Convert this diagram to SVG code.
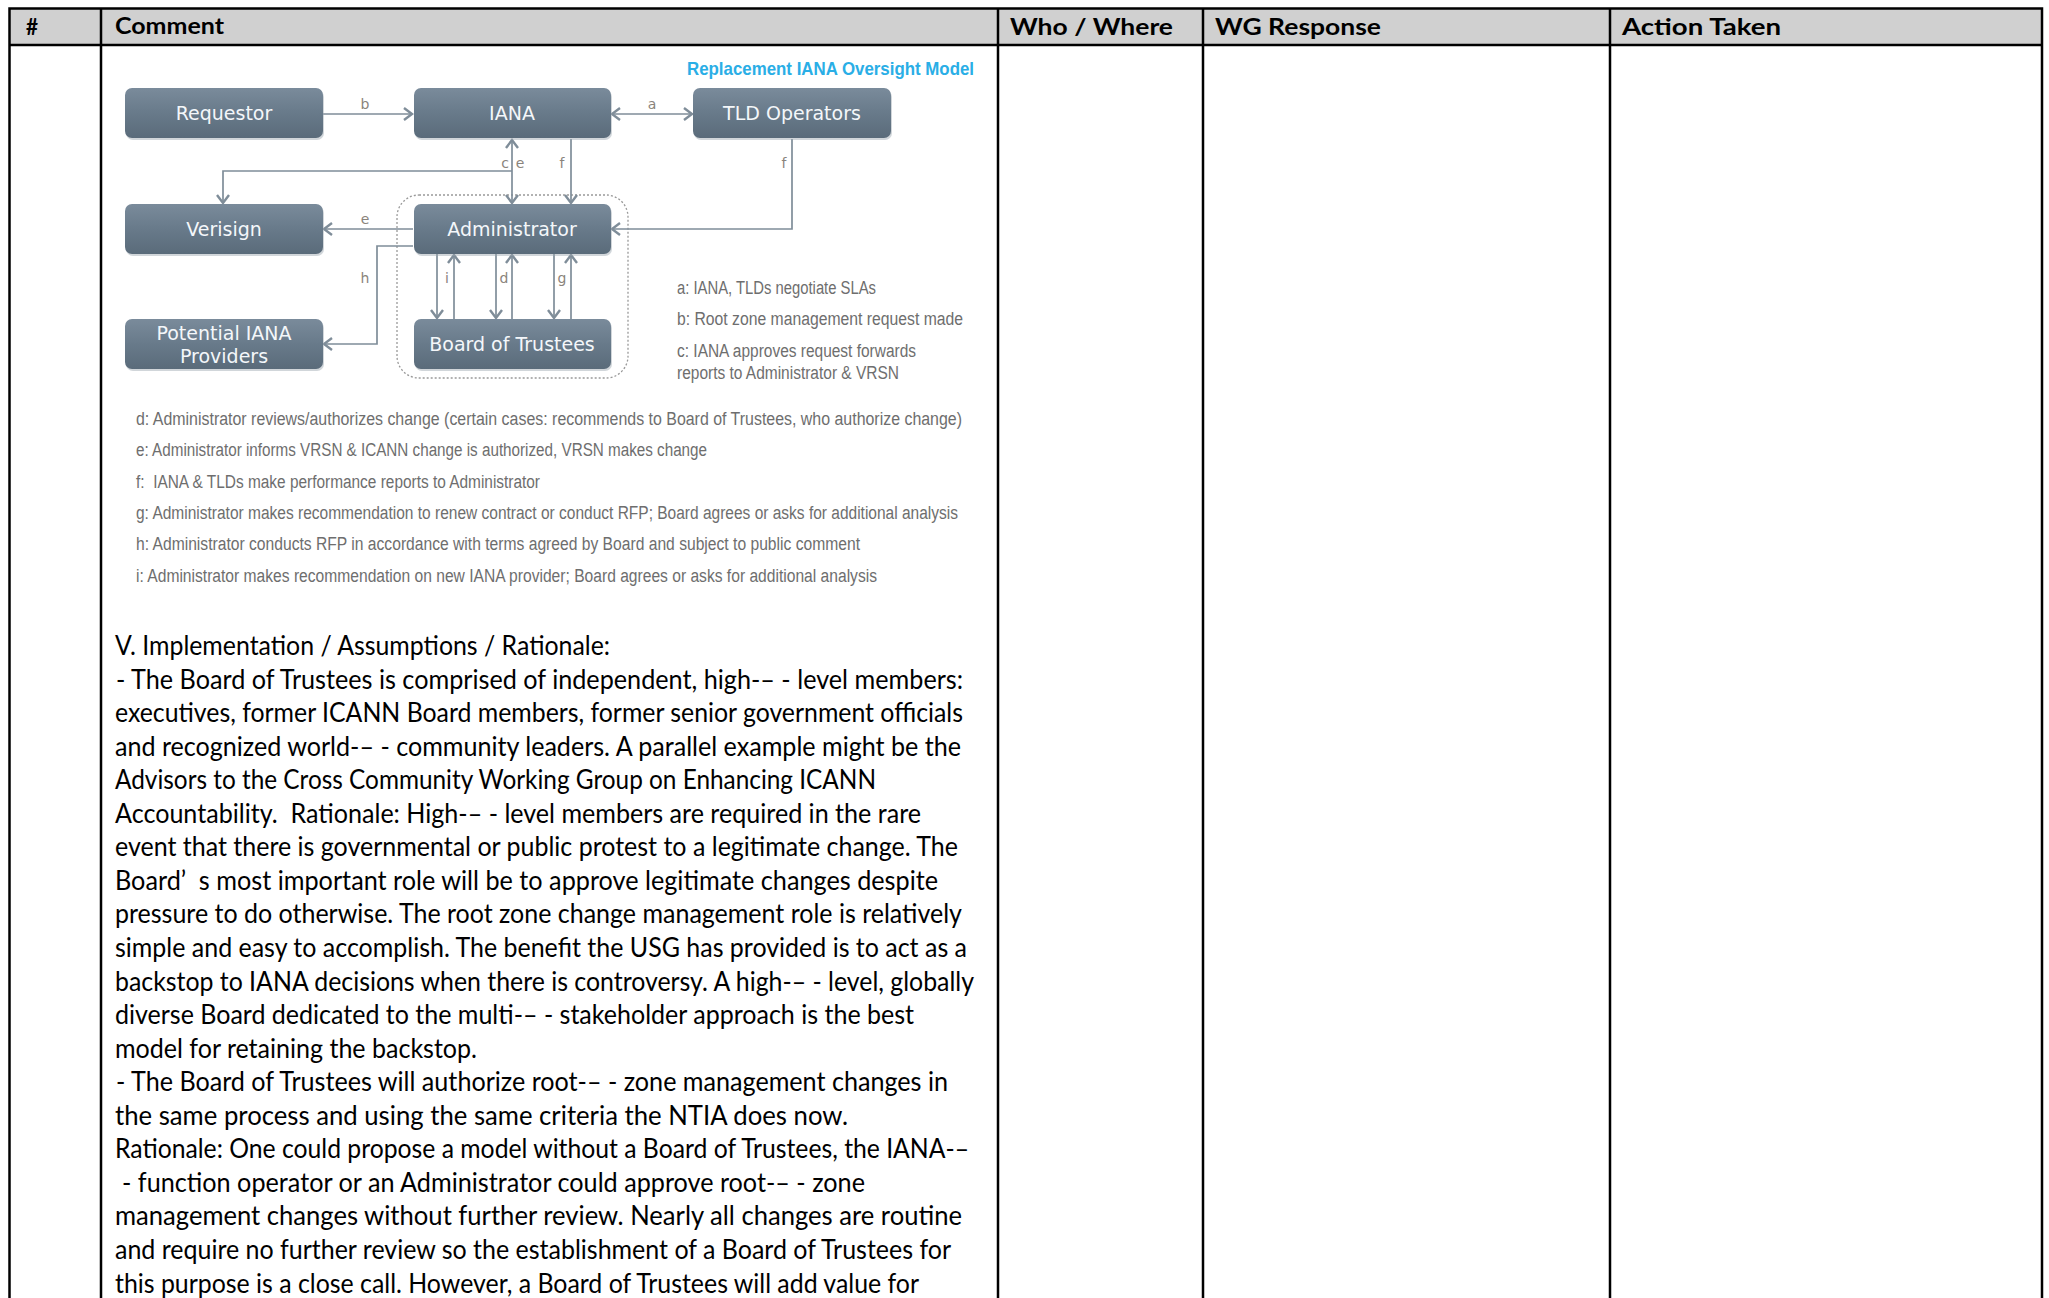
<svg xmlns="http://www.w3.org/2000/svg" width="2049" height="1298" viewBox="0 0 2049 1298">
<defs>
<style>
.hdr{font-family:Lato,"Liberation Sans",sans-serif;font-weight:700;font-size:23px;fill:#000}
.body{font-family:Lato,"Liberation Sans",sans-serif;font-size:26px;fill:#000}
.grid{stroke:#000;stroke-width:2.5;fill:none}
.box{fill:url(#boxg)}
.shadow{fill:#9aa4ad;opacity:0.45}
.btxt{font-family:"DejaVu Sans",Verdana,sans-serif;font-size:19px;fill:#f4f7fa;text-anchor:middle}
.conn{stroke:#7f8d99;stroke-width:1.7;fill:none}
.lbl{font-family:"DejaVu Sans",sans-serif;font-size:14px;fill:#8a847c;text-anchor:middle}
.leg{font-family:"Liberation Sans Narrow","Liberation Sans",sans-serif;font-size:18px;fill:#6e6e6e}
.title{font-family:"Liberation Sans Narrow","Liberation Sans",sans-serif;font-weight:700;font-size:19px;fill:#2aaee6}
</style>
<linearGradient id="boxg" x1="0" y1="0" x2="0" y2="1">
<stop offset="0" stop-color="#7a8b9b"/>
<stop offset="0.5" stop-color="#687a8a"/>
<stop offset="1" stop-color="#5a6b7a"/>
</linearGradient>
<marker id="ar" viewBox="-11 -8 13 16" refX="0" refY="0" markerWidth="13" markerHeight="16" markerUnits="userSpaceOnUse" orient="auto-start-reverse">
<path d="M-8,-6 L0,0 L-8,6" fill="none" stroke="#7f8d99" stroke-width="2.4"/>
</marker>
</defs>
<rect width="2049" height="1298" fill="#fff"/>

<g id="table">
<rect x="10" y="9" width="2032" height="36" fill="#d0d0d0"/>
<path class="grid" d="M9.5,1298 V8.5 H2042 V1298 M9.5,45 H2042 M101,8.5 V1298 M998,8.5 V1298 M1203,8.5 V1298 M1610,8.5 V1298"/>
<text class="hdr" x="26" y="35" textLength="12" lengthAdjust="spacingAndGlyphs">#</text>
<text class="hdr" x="115" y="34" textLength="109" lengthAdjust="spacingAndGlyphs">Comment</text>
<text class="hdr" x="1010" y="35" textLength="163" lengthAdjust="spacingAndGlyphs">Who / Where</text>
<text class="hdr" x="1215" y="35" textLength="166" lengthAdjust="spacingAndGlyphs">WG Response</text>
<text class="hdr" x="1622" y="35" textLength="159" lengthAdjust="spacingAndGlyphs">Action Taken</text>
</g>

<text class="title" x="687" y="75" textLength="287" lengthAdjust="spacingAndGlyphs">Replacement IANA Oversight Model</text>

<rect x="397" y="195" width="231" height="183" rx="22" fill="none" stroke="#999" stroke-width="1.3" stroke-dasharray="2,2"/>

<g id="connectors">
<path class="conn" d="M323,114 H412" marker-end="url(#ar)"/>
<path class="conn" d="M612,114 H692" marker-start="url(#ar)" marker-end="url(#ar)"/>
<path class="conn" d="M512,140 V203" marker-start="url(#ar)" marker-end="url(#ar)"/>
<path class="conn" d="M512,171 H223 V203" marker-end="url(#ar)"/>
<path class="conn" d="M571,139 V203" marker-end="url(#ar)"/>
<path class="conn" d="M792,139 V229 H612" marker-end="url(#ar)"/>
<path class="conn" d="M413,229 H324" marker-end="url(#ar)"/>
<path class="conn" d="M413,246 H377 V344 H324" marker-end="url(#ar)"/>
<path class="conn" d="M437,254 V318" marker-end="url(#ar)"/>
<path class="conn" d="M454,319 V255" marker-end="url(#ar)"/>
<path class="conn" d="M496,254 V318" marker-end="url(#ar)"/>
<path class="conn" d="M512,319 V255" marker-end="url(#ar)"/>
<path class="conn" d="M554,254 V318" marker-end="url(#ar)"/>
<path class="conn" d="M571,319 V255" marker-end="url(#ar)"/>
<text class="lbl" x="365" y="109">b</text>
<text class="lbl" x="652" y="109">a</text>
<text class="lbl" x="505" y="168">c</text>
<text class="lbl" x="520" y="168">e</text>
<text class="lbl" x="562" y="168">f</text>
<text class="lbl" x="784" y="168">f</text>
<text class="lbl" x="365" y="224">e</text>
<text class="lbl" x="365" y="283">h</text>
<text class="lbl" x="447" y="283">i</text>
<text class="lbl" x="504" y="283">d</text>
<text class="lbl" x="562" y="283">g</text>
</g>

<g id="requestor">
<rect class="shadow" x="126" y="90" width="198" height="50" rx="7"/>
<rect class="box" x="125" y="88" width="198" height="50" rx="7"/>
<text class="btxt" x="224" y="120">Requestor</text>
</g>
<g id="iana">
<rect class="shadow" x="415" y="90" width="197" height="50" rx="7"/>
<rect class="box" x="414" y="88" width="197" height="50" rx="7"/>
<text class="btxt" x="512" y="120">IANA</text>
</g>
<g id="tld-operators">
<rect class="shadow" x="694" y="90" width="198" height="50" rx="7"/>
<rect class="box" x="693" y="88" width="198" height="50" rx="7"/>
<text class="btxt" x="792" y="120">TLD Operators</text>
</g>
<g id="verisign">
<rect class="shadow" x="126" y="206" width="198" height="50" rx="7"/>
<rect class="box" x="125" y="204" width="198" height="50" rx="7"/>
<text class="btxt" x="224" y="236">Verisign</text>
</g>
<g id="administrator">
<rect class="shadow" x="415" y="206" width="197" height="50" rx="7"/>
<rect class="box" x="414" y="204" width="197" height="50" rx="7"/>
<text class="btxt" x="512" y="236">Administrator</text>
</g>
<g id="potential-iana-providers">
<rect class="shadow" x="126" y="321" width="198" height="50" rx="7"/>
<rect class="box" x="125" y="319" width="198" height="50" rx="7"/>
<text class="btxt" x="224" y="340">Potential IANA</text>
<text class="btxt" x="224" y="363">Providers</text>
</g>
<g id="board-of-trustees">
<rect class="shadow" x="415" y="321" width="197" height="50" rx="7"/>
<rect class="box" x="414" y="319" width="197" height="50" rx="7"/>
<text class="btxt" x="512" y="351">Board of Trustees</text>
</g>

<g id="legend">
<text class="leg" x="677" y="294" textLength="199" lengthAdjust="spacingAndGlyphs">a: IANA, TLDs negotiate SLAs</text>
<text class="leg" x="677" y="324.5" textLength="286" lengthAdjust="spacingAndGlyphs">b: Root zone management request made</text>
<text class="leg" x="677" y="356.5" textLength="239" lengthAdjust="spacingAndGlyphs">c: IANA approves request forwards</text>
<text class="leg" x="677" y="379" textLength="222" lengthAdjust="spacingAndGlyphs">reports to Administrator &amp; VRSN</text>
<text class="leg" x="136" y="424.5" textLength="826" lengthAdjust="spacingAndGlyphs">d: Administrator reviews/authorizes change (certain cases: recommends to Board of Trustees, who authorize change)</text>
<text class="leg" x="136" y="456" textLength="571" lengthAdjust="spacingAndGlyphs">e: Administrator informs VRSN &amp; ICANN change is authorized, VRSN makes change</text>
<text class="leg" x="136" y="487.5" textLength="404" lengthAdjust="spacingAndGlyphs">f:&#160; IANA &amp; TLDs make performance reports to Administrator</text>
<text class="leg" x="136" y="519" textLength="822" lengthAdjust="spacingAndGlyphs">g: Administrator makes recommendation to renew contract or conduct RFP; Board agrees or asks for additional analysis</text>
<text class="leg" x="136" y="550" textLength="724" lengthAdjust="spacingAndGlyphs">h: Administrator conducts RFP in accordance with terms agreed by Board and subject to public comment</text>
<text class="leg" x="136" y="581.5" textLength="741" lengthAdjust="spacingAndGlyphs">i: Administrator makes recommendation on new IANA provider; Board agrees or asks for additional analysis</text>
</g>

<g id="comment-text">
<text class="body" x="115" y="655" textLength="495" lengthAdjust="spacingAndGlyphs">V. Implementation / Assumptions / Rationale:</text>
<text class="body" x="116" y="688.6" textLength="847" lengthAdjust="spacingAndGlyphs">- The Board of Trustees is comprised of independent, high-– - level members:</text>
<text class="body" x="115" y="722.1" textLength="848" lengthAdjust="spacingAndGlyphs">executives, former ICANN Board members, former senior government officials</text>
<text class="body" x="115" y="755.7" textLength="846" lengthAdjust="spacingAndGlyphs">and recognized world-– - community leaders. A parallel example might be the</text>
<text class="body" x="115" y="789.2" textLength="761" lengthAdjust="spacingAndGlyphs">Advisors to the Cross Community Working Group on Enhancing ICANN</text>
<text class="body" x="115" y="822.8" textLength="806" lengthAdjust="spacingAndGlyphs">Accountability.&#160; Rationale: High-– - level members are required in the rare</text>
<text class="body" x="115" y="856.3" textLength="843" lengthAdjust="spacingAndGlyphs">event that there is governmental or public protest to a legitimate change. The</text>
<text class="body" x="115" y="889.9" textLength="823" lengthAdjust="spacingAndGlyphs">Board’&#160; s most important role will be to approve legitimate changes despite</text>
<text class="body" x="115" y="923.4" textLength="847" lengthAdjust="spacingAndGlyphs">pressure to do otherwise. The root zone change management role is relatively</text>
<text class="body" x="115" y="957" textLength="852" lengthAdjust="spacingAndGlyphs">simple and easy to accomplish. The benefit the USG has provided is to act as a</text>
<text class="body" x="115" y="990.5" textLength="859" lengthAdjust="spacingAndGlyphs">backstop to IANA decisions when there is controversy. A high-– - level, globally</text>
<text class="body" x="115" y="1024.1" textLength="799" lengthAdjust="spacingAndGlyphs">diverse Board dedicated to the multi-– - stakeholder approach is the best</text>
<text class="body" x="115" y="1057.6" textLength="362" lengthAdjust="spacingAndGlyphs">model for retaining the backstop.</text>
<text class="body" x="116" y="1091.2" textLength="832" lengthAdjust="spacingAndGlyphs">- The Board of Trustees will authorize root-– - zone management changes in</text>
<text class="body" x="115" y="1124.7" textLength="733" lengthAdjust="spacingAndGlyphs">the same process and using the same criteria the NTIA does now.</text>
<text class="body" x="115" y="1158.3" textLength="854" lengthAdjust="spacingAndGlyphs">Rationale: One could propose a model without a Board of Trustees, the IANA-–</text>
<text class="body" x="122" y="1191.8" textLength="743" lengthAdjust="spacingAndGlyphs">- function operator or an Administrator could approve root-– - zone</text>
<text class="body" x="115" y="1225.4" textLength="847" lengthAdjust="spacingAndGlyphs">management changes without further review. Nearly all changes are routine</text>
<text class="body" x="115" y="1258.9" textLength="836" lengthAdjust="spacingAndGlyphs">and require no further review so the establishment of a Board of Trustees for</text>
<text class="body" x="115" y="1292.5" textLength="804" lengthAdjust="spacingAndGlyphs">this purpose is a close call. However, a Board of Trustees will add value for</text>
</g>
</svg>
